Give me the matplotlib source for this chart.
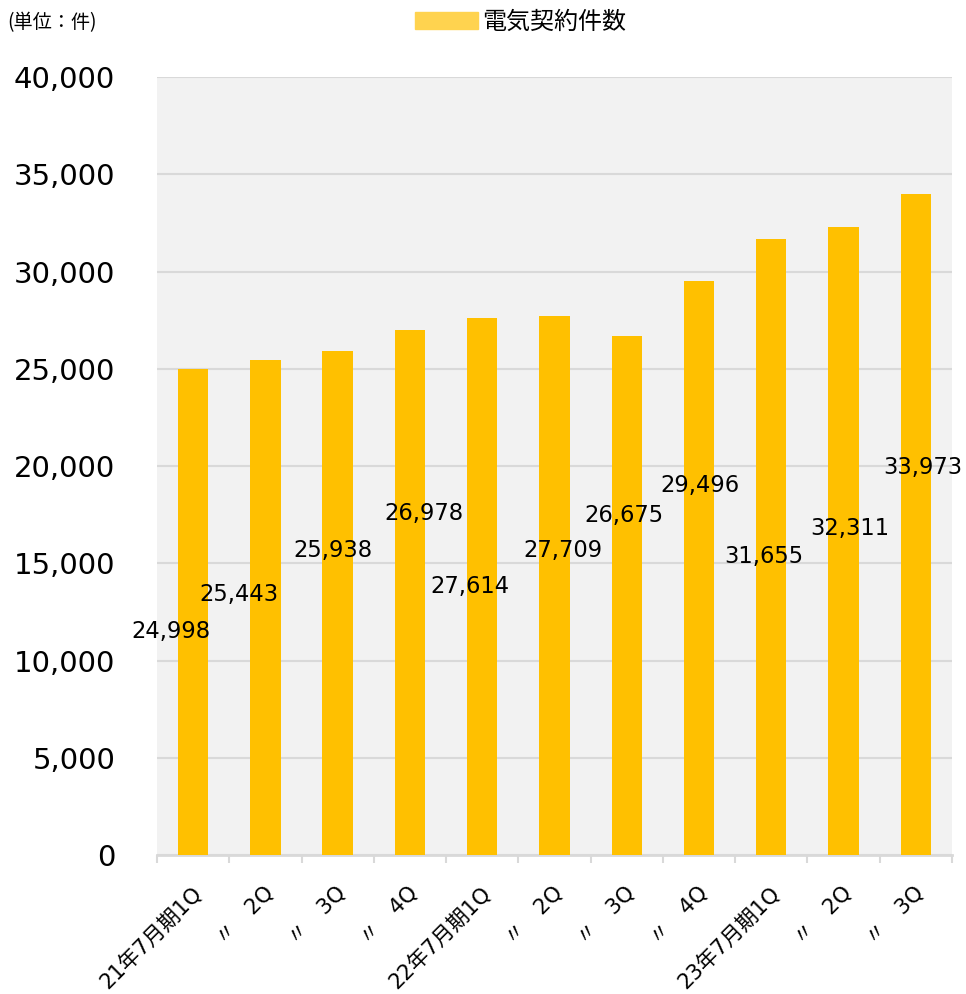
import numpy as np
import matplotlib
matplotlib.use("Agg")
import matplotlib.pyplot as plt
import matplotlib.transforms as mtransforms
from matplotlib.patches import Patch
from matplotlib.ticker import FuncFormatter

plt.rcParams['font.family'] = ['DejaVu Sans', 'Noto Sans CJK JP']

# quarterly electricity contracts
quarters = ['21年7月期1Q', '〃　2Q', '〃　3Q', '〃　4Q',
            '22年7月期1Q', '〃　2Q', '〃　3Q', '〃　4Q',
            '23年7月期1Q', '〃　2Q', '〃　3Q']
contracts = [24998, 25443, 25938, 26978, 27614, 27709,
             26675, 29496, 31655, 32311, 33973]
series_name = '電気契約件数'

# where each value label sits (x in category units, y in axis units)
label_x = [-0.30, 0.63, 1.93, 3.19, 3.83, 5.12, 5.96, 7.01, 7.90, 9.09, 10.10]
label_y = [11500, 13420, 15640, 17540, 13790, 15640, 17440, 18990, 15330, 16770, 19910]

BAR = '#FFC000'
GRID = '#D9D9D9'

fig = plt.figure(figsize=(9.66, 9.94), dpi=100)
ax = fig.add_axes([0.1625, 0.1398, 0.8230, 0.7827])
ax.set_facecolor('#F2F2F2')

x = np.arange(len(quarters))
ax.bar(x, contracts, width=0.42, color=BAR, zorder=3)

for lx, ly, v in zip(label_x, label_y, contracts):
    ax.text(lx, ly, f'{v:,}', ha='center', va='center', fontsize=16.3,
            color='black', zorder=4)

ax.set_xlim(-0.5, len(quarters) - 0.5)
ax.set_ylim(0, 40000)
ax.set_yticks(np.arange(0, 40001, 5000))
ax.yaxis.set_major_formatter(FuncFormatter(lambda v, p: f'{int(v):,}'))
ax.grid(axis='y', color=GRID, lw=1.5, zorder=0)
ax.set_axisbelow(True)

for s in ['left', 'right', 'top']:
    ax.spines[s].set_visible(False)
ax.spines['bottom'].set_color(GRID)
ax.spines['bottom'].set_linewidth(2)

ax.tick_params(axis='y', length=0, pad=30, labelsize=21)
ax.set_xticks(x)
ax.set_xticklabels(quarters, rotation=45, ha='right', va='center',
                   rotation_mode='anchor', fontsize=15.3)
ax.tick_params(axis='x', which='major', length=0, pad=25)
ax.set_xticks(np.arange(-0.5, len(quarters), 1), minor=True)
ax.tick_params(axis='x', which='minor', length=6, width=1.5, color=GRID)

shift = mtransforms.ScaledTranslation(0.05, 0, fig.dpi_scale_trans)
for lab in ax.get_xticklabels():
    lab.set_transform(lab.get_transform() + shift)

fig.text(0.008, 0.977, '(単位：件)', fontsize=13.8, va='center', ha='left',
         family=['Noto Sans CJK JP'])

fig.legend(handles=[Patch(color='#FFD34F', label=series_name)],
           loc='center', bbox_to_anchor=(0.539, 0.978), frameon=False,
           handlelength=2.6, handleheight=0.68,
           handletextpad=0.2, borderpad=0,
           prop={'family': ['Noto Sans CJK JP'], 'size': 17.3})

fig.savefig('out.png', dpi=100)
